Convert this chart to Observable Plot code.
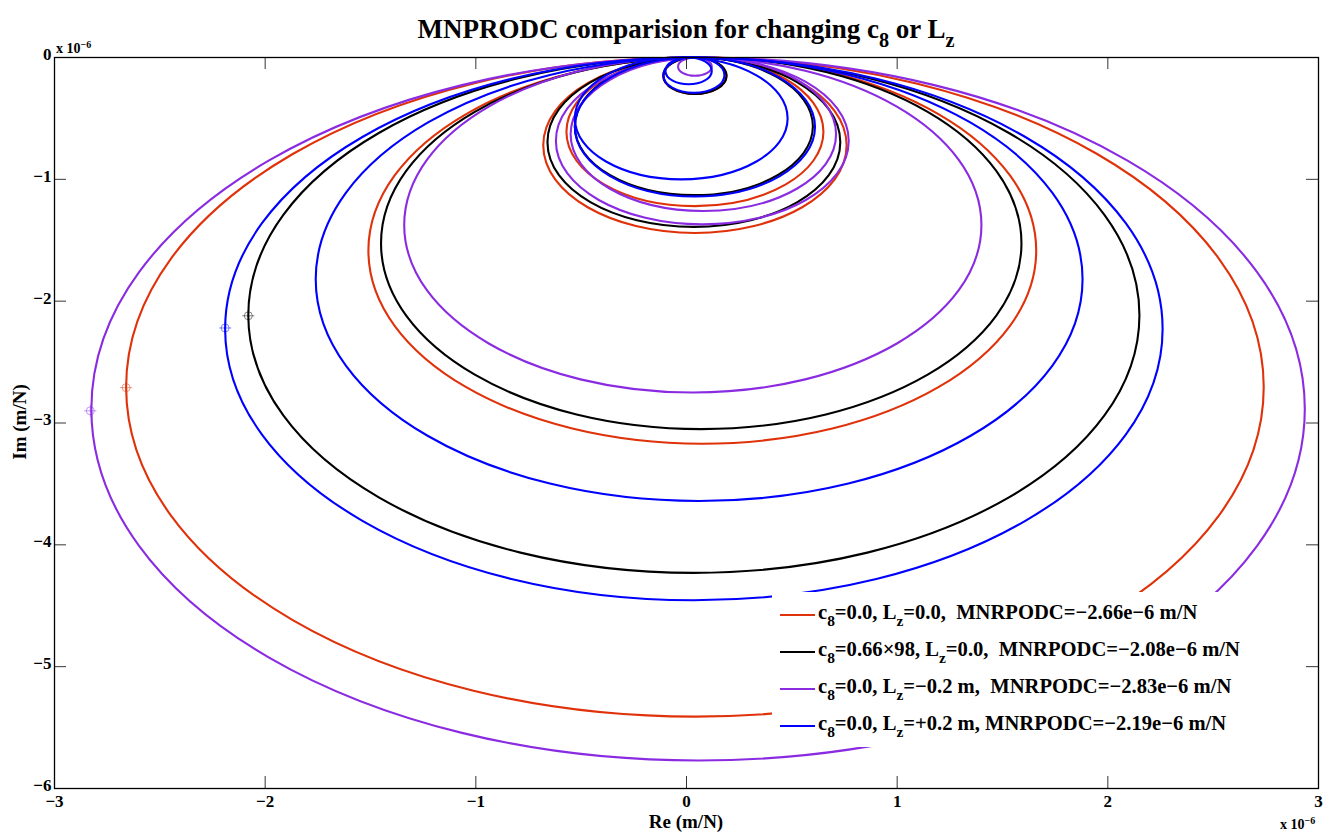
<!DOCTYPE html>
<html>
<head>
<meta charset="utf-8">
<script src="https://cdn.jsdelivr.net/npm/d3@7"></script>
<script src="https://cdn.jsdelivr.net/npm/@observablehq/plot@0.6"></script>
<style>
  body { margin: 0; background: #fff; }
  #wrap { position: relative; width: 1337px; height: 832px; overflow: hidden;
          font-family: "Liberation Serif", "Times New Roman", serif; font-weight: bold; color: #000; }
  #chart { position: absolute; left: 0; top: 0; }
  .title { position: absolute; left: 54px; width: 1264px; top: 13px; text-align: center; font-size: 27px; line-height: 32px; white-space: pre; }
  .exp { position: absolute; font-size: 14px; white-space: pre; line-height: 16px; }
  .exp sup { font-size: 10px; vertical-align: 5px; }
  .xlab { position: absolute; left: 54px; width: 1264px; top: 812px; text-align: center; font-size: 19px; line-height: 19px; }
  .ylab { position: absolute; left: 20px; top: 422px; font-size: 19px; line-height: 22px; transform: translate(-50%, -50%) rotate(-90deg); white-space: pre; }
  sub { font-size: 0.75em; vertical-align: -0.45em; line-height: 0; }
  #legend { position: absolute; left: 772px; top: 592px; width: 500px; height: 155px; background: #fff; }
  .row { position: absolute; left: 8px; height: 24px; line-height: 24px; font-size: 20.6px; white-space: pre; }
  .sw { display: inline-block; width: 35px; height: 2px; vertical-align: middle; margin-right: 3px; position: relative; top: 1px; }
</style>
</head>
<body>
<div id="wrap">
  <div id="chart"></div>
  <div class="title" id="title"></div>
  <div class="exp" style="left:56px; top:37px;">x 10<sup>−6</sup></div>
  <div class="exp" style="left:1280px; top:813px;">x 10<sup>−6</sup></div>
  <div class="xlab">Re (m/N)</div>
  <div class="ylab">Im (m/N)</div>
  <div id="legend"></div>
</div>
<script>
// ---- data (units of 1e-6 m/N) ----
const xTicks = [-3, -2, -1, 0, 1, 2, 3];
const yTicks = [-6, -5, -4, -3, -2, -1, 0];

const seriesNames = ["c8=0.0, Lz=0.0", "c8=0.66x98, Lz=0.0", "c8=0.0, Lz=-0.2 m", "c8=0.0, Lz=+0.2 m"];
const seriesColors = ["#e0320a", "#000000", "#8a2be2", "#0000ff"];

// each Nyquist loop read as its left edge, right edge and bottom (min Im); loops touch Im = 0 at the top
const redLeft    = [-2.66, -1.51, -0.68, -0.57, -0.11];
const redRight   = [ 2.74,  1.66,  0.76,  0.65,  0.19];
const redBottom  = [-5.41, -3.17, -1.44, -1.22, -0.30];

const blackLeft   = [-2.08, -1.45, -0.66, -0.53, -0.11];
const blackRight  = [ 2.15,  1.59,  0.73,  0.60,  0.19];
const blackBottom = [-4.23, -3.05, -1.39, -1.13, -0.30];

const purpleLeft   = [-2.825, -1.34, -0.62, -0.55, -0.04];
const purpleRight  = [ 2.935,  1.40,  0.77,  0.71,  0.12];
const purpleBottom = [-5.77,  -2.75, -1.37, -1.26, -0.15];

const blueLeft   = [-2.19, -1.76, -0.53, -0.53, -0.10, -0.11];
const blueRight  = [ 2.26,  1.88,  0.61,  0.48,  0.12,  0.18];
const blueBottom = [-4.455, -3.64, -1.14, -1.00, -0.22, -0.29];

// MNRPODC markers (most negative real part)
const markerRe = [-2.66, -2.08, -2.83, -2.19];
const markerIm = [-2.71, -2.12, -2.90, -2.22];

// legend text parts
const legC8 = ["0.0", "0.66×98", "0.0", "0.0"];
const legLz = ["0.0,  ", "0.0,  ", "−0.2 m,  ", "+0.2 m, "];
const legMin = ["−2.66e−6", "−2.08e−6", "−2.83e−6", "−2.19e−6"];

// ---- build table of loop edge points ----
const allLoops = [
  [redLeft, redRight, redBottom],
  [blackLeft, blackRight, blackBottom],
  [purpleLeft, purpleRight, purpleBottom],
  [blueLeft, blueRight, blueBottom]
];
const pts = [];
allLoops.forEach(([L, R, B], s) => {
  L.forEach((l, i) => {
    const c = (l + R[i]) / 2, key = s + "-" + i;
    pts.push({s, key, re: c, im: 0});
    pts.push({s, key, re: R[i], im: B[i] / 2});
    pts.push({s, key, re: c, im: B[i]});
    pts.push({s, key, re: l, im: B[i] / 2});
  });
});
const markers = markerRe.map((re, i) => ({s: i, re, im: markerIm[i]}));

const W = 1337, H = 832, mL = 54, mR = 19, mT = 57, mB = 44;
const pw = W - mL - mR, ph = H - mT - mB, tk = 12;
const fmt = d => String(d).replace("-", "−");

const plot = Plot.plot({
  width: W, height: H,
  marginLeft: mL, marginRight: mR, marginTop: mT, marginBottom: mB,
  style: {fontFamily: '"Liberation Serif", "Times New Roman", serif', fontWeight: "bold", fontSize: "17px", background: "#fff", overflow: "visible"},
  x: {domain: [-3, 3]},
  y: {domain: [-6, 0]},
  marks: [
    ...seriesColors.map((col, s) =>
      Plot.line(pts.filter(d => d.s === s), {x: "re", y: "im", z: "key", stroke: col, strokeWidth: 2.1,
        curve: "cardinal-closed", tension: -0.657})
    ),
    ...seriesColors.map((col, s) =>
      Plot.dot(markers.filter(d => d.s === s), {x: "re", y: "im", r: 4, stroke: col, strokeWidth: 0.8, strokeOpacity: 0.6, symbol: "circle"})
    ),
    ...seriesColors.map((col, s) =>
      Plot.dot(markers.filter(d => d.s === s), {x: "re", y: "im", r: 4, stroke: col, strokeWidth: 0.8, strokeOpacity: 0.6, symbol: "plus"})
    ),
    Plot.frame({stroke: "#000", strokeWidth: 1.3}),
    Plot.tickX(xTicks, {x: d => d, insetTop: ph - tk, stroke: "#000", strokeWidth: 0.8}),
    Plot.tickX(xTicks, {x: d => d, insetBottom: ph - tk, stroke: "#000", strokeWidth: 0.8}),
    Plot.tickY(yTicks, {y: d => d, insetRight: pw - tk, stroke: "#000", strokeWidth: 0.8}),
    Plot.tickY(yTicks, {y: d => d, insetLeft: pw - tk, stroke: "#000", strokeWidth: 0.8}),
    Plot.axisX(xTicks, {anchor: "bottom", tickSize: 0, tickPadding: 6, fontSize: 17, tickFormat: fmt, label: null}),
    Plot.axisY(yTicks, {anchor: "left", tickSize: 0, tickPadding: 3, fontSize: 17, tickFormat: fmt, label: null, dy: -3})
  ]
});
document.getElementById("chart").appendChild(plot);

document.getElementById("title").innerHTML =
  "MNPRODC comparision for changing c<sub>8</sub> or L<sub>z</sub>";

const leg = document.getElementById("legend");
const rowCenters = [20, 57, 94, 131];
seriesColors.forEach((col, i) => {
  const row = document.createElement("div");
  row.className = "row";
  row.style.top = (rowCenters[i] - 12) + "px";
  row.innerHTML = `<span class="sw" style="background:${col}"></span>c<sub>8</sub>=${legC8[i]}, L<sub>z</sub>=${legLz[i]}MNRPODC=${legMin[i]} m/N`;
  leg.appendChild(row);
});
</script>
</body>
</html>
